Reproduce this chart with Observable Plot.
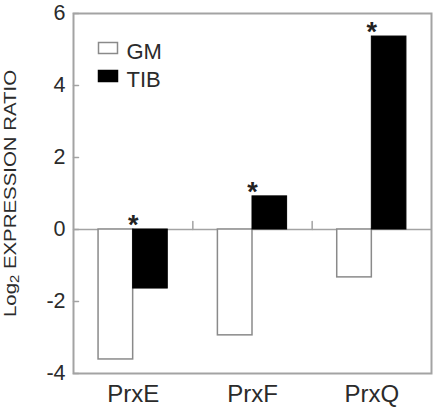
<!DOCTYPE html>
<html><head><meta charset="utf-8">
<script src="https://cdn.jsdelivr.net/npm/d3@7"></script>
<script src="https://cdn.jsdelivr.net/npm/@observablehq/plot@0.6"></script>
<style>body{margin:0;background:#fff} svg{display:block}</style>
</head><body><div id="chart"></div>
<script>
const categories = ["PrxE", "PrxF", "PrxQ"];
const series = ["GM", "TIB"];
const gmValues = [-3.61, -2.94, -1.33];
const tibValues = [-1.64, 0.92, 5.36];
const significant = [true, true, true];
const yTicks = [-4, -2, 0, 2, 4, 6];
const yLabelParts = ["Log", "2", " EXPRESSION RATIO"];
const yLabel = yLabelParts.join("");

const barW = 0.29;
const gmBars = categories.map((c, i) => ({category: c, series: "GM", value: gmValues[i], x1: i + 0.5 - barW, x2: i + 0.5}));
const tibBars = categories.map((c, i) => ({category: c, series: "TIB", value: tibValues[i], x1: i + 0.5, x2: i + 0.5 + barW}));
const stars = categories.map((c, i) => ({x: i + 0.5, y: Math.max(0, tibValues[i]), sig: significant[i]})).filter(d => d.sig);
const boundaries = d3.range(1, categories.length);
const textColor = "#2b2b2b";
const frameColor = "#a3a3a3";
const lineShape = {draw(ctx, l) { ctx.moveTo(0, 0); ctx.lineTo(0, -l); }};
const swatch = () => ({draw(ctx) { ctx.rect(-9.5, -5.5, 19, 11); }});

const plot = Plot.plot({
  width: 439,
  height: 408,
  marginLeft: 73,
  marginRight: 8,
  marginTop: 13,
  marginBottom: 35,
  style: {fontFamily: "'Liberation Sans', Arial, sans-serif", color: textColor, background: "white"},
  x: {domain: [0, categories.length]},
  y: {domain: [-4, 6]},
  marks: [
    Plot.ruleY([0], {stroke: frameColor, strokeWidth: 1.5}),
    Plot.vector(boundaries, {x: d => d, y: 0, length: 8, rotate: 0, anchor: "start", shape: lineShape, stroke: frameColor, strokeWidth: 1.5}),
    Plot.vector(yTicks, {x: 0, y: d => d, length: 5, rotate: 90, anchor: "start", shape: lineShape, stroke: frameColor, strokeWidth: 1.5}),
    Plot.rectY(gmBars, {x1: "x1", x2: "x2", y1: 0, y2: "value", fill: "white", stroke: "#8a8a8a", strokeWidth: 1.5}),
    Plot.rectY(tibBars, {x1: "x1", x2: "x2", y1: 0, y2: "value", fill: "black", stroke: "black", strokeWidth: 1}),
    Plot.text(stars, {x: "x", y: "y", text: () => "*", fontSize: 27, fontWeight: "bold", dy: -4, fill: "#222"}),
    Plot.frame({stroke: frameColor, strokeWidth: 2}),
    Plot.axisY(yTicks, {tickSize: 0, tickPadding: 8, fontSize: 21.5, tickFormat: d => String(d), fill: textColor, label: null}),
    Plot.axisX([0.5, 1.5, 2.5], {tickSize: 0, tickPadding: 11, fontSize: 24, tickFormat: d => categories[Math.floor(d)], fill: textColor, label: null}),
    Plot.text([yLabel], {frameAnchor: "left", textAnchor: "middle", rotate: -90, dx: -63, fontSize: 16.5, fill: textColor}),
    Plot.dot([series[0]], {frameAnchor: "top-left", dx: 34.5, dy: 34.5, symbol: swatch(), r: 5, fill: "white", stroke: "#8a8a8a", strokeWidth: 1.5}),
    Plot.dot([series[1]], {frameAnchor: "top-left", dx: 34.5, dy: 62.5, symbol: swatch(), r: 5, fill: "black", stroke: "black"}),
    Plot.text([series.join("\n")], {frameAnchor: "top-left", dx: 53, dy: 26, lineHeight: 1.27, textAnchor: "start", lineAnchor: "top", fontSize: 22, fill: textColor})
  ]
});
const title = d3.select(plot).selectAll("text").filter(function() { return this.textContent === yLabel; });
title.text(null);
title.append("tspan").text(yLabelParts[0]);
title.append("tspan").text(yLabelParts[1]).attr("font-size", "72%").attr("dy", "0.3em");
title.append("tspan").text(yLabelParts[2]).attr("dy", "-0.22em");
title.attr("textLength", 247).attr("lengthAdjust", "spacingAndGlyphs");
document.getElementById("chart").append(plot);
</script></body></html>
